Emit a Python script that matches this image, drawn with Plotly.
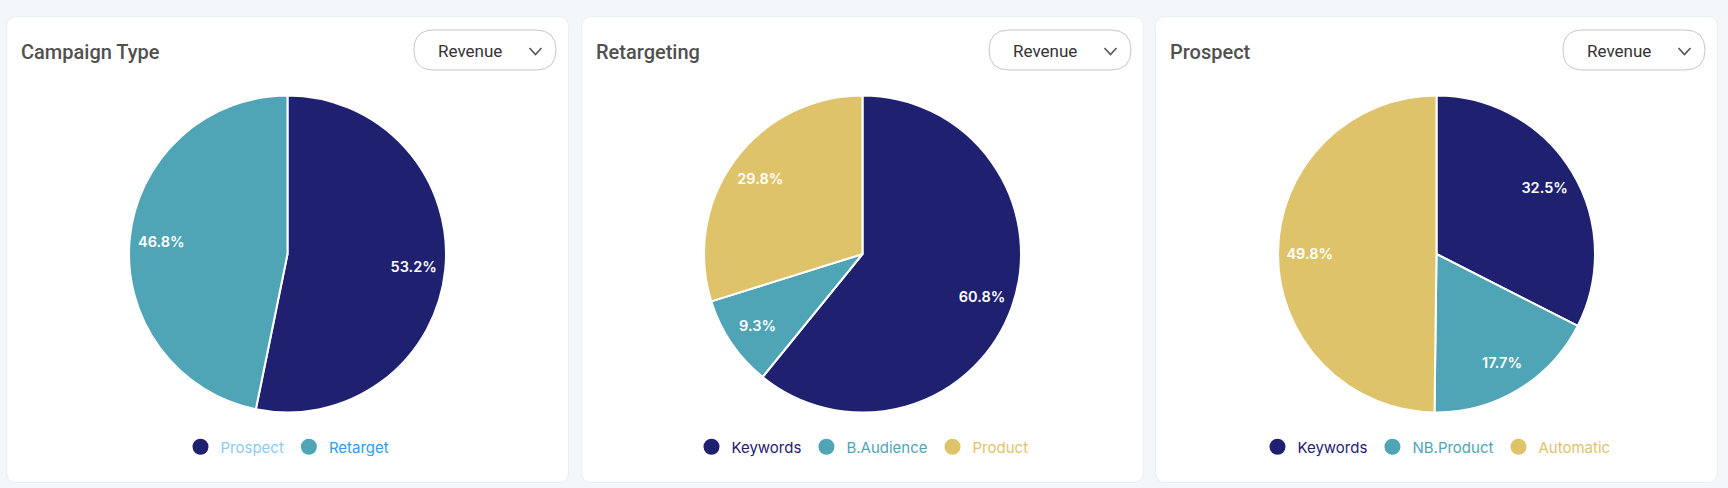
import plotly.graph_objects as go

W, H = 1728, 488

# data
chart_titles = ["Campaign Type", "Retargeting", "Prospect"]
metric_label = "Revenue"

campaign_labels = ["Prospect", "Retarget"]
campaign_share = [53.2, 46.8]

retarget_labels = ["Keywords", "B.Audience", "Product"]
retarget_share = [60.8, 9.3, 29.8]

prospect_labels = ["Keywords", "NB.Product", "Automatic"]
prospect_share = [32.5, 17.7, 49.8]

NAVY, TEAL, GOLD = "#1f2070", "#4fa5b5", "#dec36b"
slice_colors = [[NAVY, TEAL], [NAVY, TEAL, GOLD], [NAVY, TEAL, GOLD]]
legend_text_colors = [
    ["#8ccaf7", "#2a9df4"],
    [NAVY, TEAL, GOLD],
    [NAVY, TEAL, GOLD],
]

charts = [
    (campaign_labels, campaign_share),
    (retarget_labels, retarget_share),
    (prospect_labels, prospect_share),
]

# card geometry in pixels
CARD_X = [7, 582, 1156]
CARD_W = 561
CARD_TOP, CARD_BOTTOM = 17, 482
PIE_CY, PIE_R = 254, 158.5
LEGEND_Y = 447


def px(x):
    return x / W


def py(y):
    return 1 - y / H


def rounded_rect(x0, y0, x1, y1, r):
    """SVG path for a rounded rectangle, pixel coords -> paper coords."""
    pts = [
        ("M", x0 + r, y0), ("L", x1 - r, y0), ("Q", x1, y0, x1, y0 + r),
        ("L", x1, y1 - r), ("Q", x1, y1, x1 - r, y1), ("L", x0 + r, y1),
        ("Q", x0, y1, x0, y1 - r), ("L", x0, y0 + r), ("Q", x0, y0, x0 + r, y0),
    ]
    out = []
    for p in pts:
        cmd, coords = p[0], p[1:]
        xy = []
        for i in range(0, len(coords), 2):
            xy.append(f"{px(coords[i]):.5f},{py(coords[i + 1]):.5f}")
        out.append(cmd + " " + " ".join(xy))
    return " ".join(out) + " Z"


fig = go.Figure()
shapes = []
annotations = []
legends = {}

for i, (labels, values) in enumerate(charts):
    cx0 = CARD_X[i]
    cx1 = cx0 + CARD_W
    cc = (cx0 + cx1) / 2
    lg = "legend" if i == 0 else f"legend{i + 1}"
    dom = dict(x=[px(cc - PIE_R), px(cc + PIE_R)],
               y=[py(PIE_CY + PIE_R), py(PIE_CY - PIE_R)])

    # card
    shapes.append(dict(type="path", xref="paper", yref="paper", layer="below",
                       path=rounded_rect(cx0 - 1, CARD_TOP - 1, cx1 + 1, CARD_BOTTOM + 1, 11),
                       fillcolor="#e9f0f3", line=dict(width=0)))
    shapes.append(dict(type="path", xref="paper", yref="paper", layer="below",
                       path=rounded_rect(cx0, CARD_TOP, cx1, CARD_BOTTOM, 10),
                       fillcolor="white", line=dict(width=0)))

    # title
    annotations.append(dict(text=chart_titles[i], xref="paper", yref="paper",
                            x=px(cx0 + 12), y=py(51.5), xanchor="left", yanchor="middle",
                            showarrow=False,
                            font=dict(family="Roboto", size=20, color="#505050", weight=500)))

    # metric selector pill
    dx0, dx1 = cx1 - 154, cx1 - 12
    shapes.append(dict(type="path", xref="paper", yref="paper", layer="below",
                       path=rounded_rect(dx0, 30, dx1, 70, 20),
                       fillcolor="white", line=dict(color="#c6c6c6", width=1)))
    annotations.append(dict(text=metric_label, xref="paper", yref="paper",
                            x=px(dx0 + 55.5), y=py(50.5), xanchor="center", yanchor="middle",
                            showarrow=False,
                            font=dict(family="Roboto", size=17, color="#333333")))
    chev = dx1 - 20.5
    shapes.append(dict(type="path", xref="paper", yref="paper",
                       path=f"M {px(chev - 6):.5f},{py(48):.5f} L {px(chev):.5f},{py(54.5):.5f} "
                            f"L {px(chev + 6):.5f},{py(48):.5f}",
                       line=dict(color="#555555", width=1.6)))

    # pie slices
    fig.add_trace(go.Pie(
        labels=labels,
        values=values,
        sort=False,
        direction="clockwise",
        rotation=0,
        marker=dict(colors=slice_colors[i], line=dict(color="white", width=2)),
        textinfo="none",
        hovertemplate="%{label}: %{value:.1f}%<extra></extra>",
        showlegend=False,
        domain=dom,
    ))
    # transparent ring on top, only to put the labels at ~0.8 of the radius
    fig.add_trace(go.Pie(
        labels=labels,
        values=values,
        sort=False,
        direction="clockwise",
        rotation=0,
        hole=0.6,
        marker=dict(colors=["rgba(0,0,0,0)"] * len(values), line=dict(width=0)),
        texttemplate="%{value:.1f}%",
        textposition="inside",
        insidetextorientation="horizontal",
        textfont=dict(family="Inter", size=14.5, color="white", weight=600),
        hoverinfo="skip",
        showlegend=False,
        domain=dom,
    ))

    # legend entries with round markers
    for lab, col, tcol in zip(labels, slice_colors[i], legend_text_colors[i]):
        fig.add_trace(go.Scatter(
            x=[None], y=[None], mode="markers",
            marker=dict(symbol="circle", size=16, color=col),
            name=f'<span style="color:{tcol}">{lab}</span>',
            legend=lg, hoverinfo="skip",
        ))

    legends[lg] = dict(
        orientation="h", x=px(cc), xanchor="center", y=py(LEGEND_Y), yanchor="middle",
        bgcolor="rgba(0,0,0,0)", font=dict(family="Inter", size=15, color="#333"),
        itemclick=False, itemdoubleclick=False,
    )

fig.update_layout(
    width=W, height=H,
    margin=dict(l=0, r=0, t=0, b=0),
    paper_bgcolor="#f3f7f9",
    plot_bgcolor="rgba(0,0,0,0)",
    xaxis=dict(visible=False),
    yaxis=dict(visible=False),
    shapes=shapes,
    annotations=annotations,
    **legends,
)

# drop the default page margin so the figure fills the window exactly
fig.write_html("out.html", config={"displayModeBar": False},
               post_script="document.body.style.margin = '0';")
